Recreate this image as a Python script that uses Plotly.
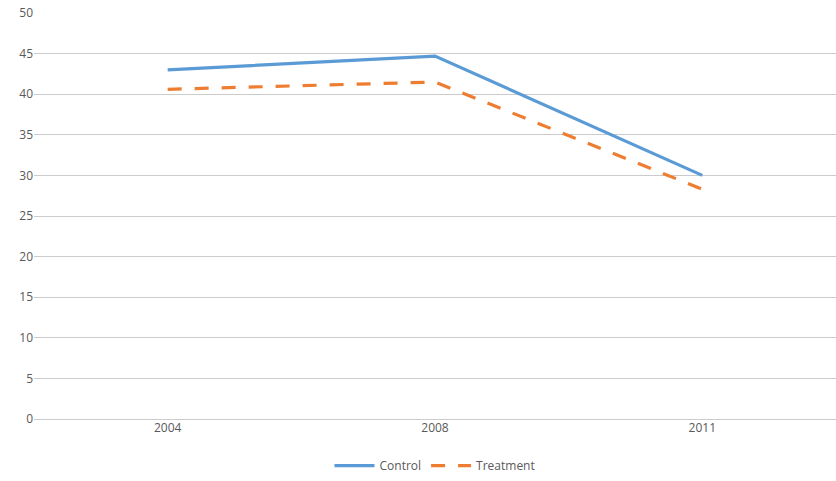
import plotly.graph_objects as go

years = ["2004", "2008", "2011"]
control = [43.0, 44.7, 30.0]
treatment = [40.6, 41.5, 28.3]
y_ticks = [0, 5, 10, 15, 20, 25, 30, 35, 40, 45, 50]

fig = go.Figure()
fig.add_trace(go.Scatter(
    x=years, y=control, name="Control", mode="lines",
    line=dict(color="#5B9BD5", width=3.2),
))
fig.add_trace(go.Scatter(
    x=years, y=treatment, name="Treatment", mode="lines",
    line=dict(color="#ED7D31", width=3.2, dash="14px,13px"),
))

fig.update_layout(
    width=836, height=481,
    margin=dict(l=34, r=0, t=13, b=62),
    plot_bgcolor="white", paper_bgcolor="white",
    font=dict(family="Open Sans, Liberation Sans, sans-serif", size=12, color="#595959"),
    showlegend=True,
    legend=dict(orientation="h", x=0.5, xanchor="center", y=-0.115, yanchor="middle",
                font=dict(size=12, color="#595959"), itemwidth=40),
    xaxis=dict(type="category", range=[-0.5, 2.5], showgrid=False, zeroline=False,
               showline=False, ticks="", tickfont=dict(size=12)),
    yaxis=dict(range=[0, 50], tickvals=y_ticks, showgrid=True, gridcolor="#cbcbcb",
               gridwidth=1.4, zeroline=True, zerolinecolor="#cbcbcb", zerolinewidth=1.4,
               showline=False, ticks="", tickfont=dict(size=12)),
)

fig.write_html("out.html")
